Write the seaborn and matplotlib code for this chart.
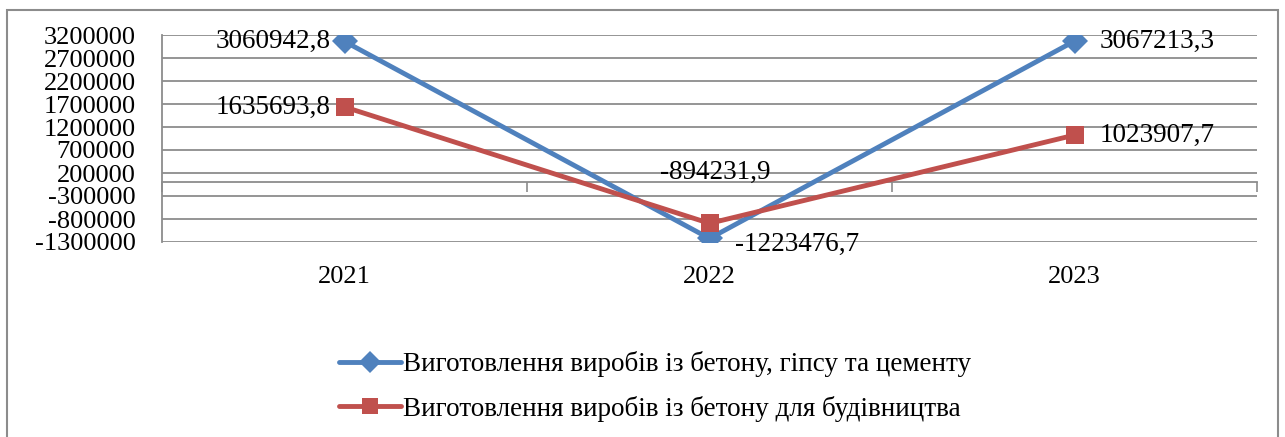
import pandas as pd
import numpy as np
import matplotlib
matplotlib.use("Agg")
import matplotlib.pyplot as plt
import matplotlib.patches as patches
import seaborn as sns

# Дані
years = [2021, 2022, 2023]
series_a = "Виготовлення виробів із бетону, гіпсу та цементу"
series_b = "Виготовлення виробів із бетону для будівництва"
values_a = [3060942.8, -1223476.7, 3067213.3]
values_b = [1635693.8, -894231.9, 1023907.7]

df = pd.DataFrame({
    "year": years * 2,
    "value": values_a + values_b,
    "series": [series_a] * 3 + [series_b] * 3,
})

sns.set_style("white")
plt.rcParams["font.family"] = ["Liberation Serif", "DejaVu Serif"]
plt.rcParams["text.color"] = "black"
plt.rcParams["xtick.color"] = "black"
plt.rcParams["ytick.color"] = "black"

blue = "#4F81BD"
red = "#C0504D"
grid_c = "#8C8C8C"

fig = plt.figure(figsize=(12.85, 4.37), dpi=100)
ax = fig.add_axes([162 / 1285, 1 - 242 / 437, (1257 - 162) / 1285, (242 - 35) / 437])

sns.lineplot(data=df, x="year", y="value", hue="series", style="series",
             palette={series_a: blue, series_b: red},
             markers={series_a: "D", series_b: "s"}, dashes=False,
             linewidth=3.5, markersize=13, markeredgewidth=0, ax=ax, legend=True)

ax.set_xlim(2020.5, 2023.5)
ax.set_ylim(-1300000, 3200000)
yt = np.arange(-1300000, 3200001, 500000)
ax.set_yticks(yt)
ax.set_yticklabels([f"{int(v)}" for v in yt], fontsize=19)
ax.set_xticks(years)
ax.set_xticklabels([str(y) for y in years], fontsize=19)
ax.tick_params(axis="x", length=0, pad=17)
ax.tick_params(axis="y", length=7, width=1.2, color=grid_c, labelcolor="black", pad=12)
ax.set_xlabel("")
ax.set_ylabel("")
ax.grid(axis="y", color=grid_c, linewidth=1.3)
ax.set_axisbelow(True)
for s in ["top", "right", "bottom"]:
    ax.spines[s].set_visible(False)
ax.spines["left"].set_color(grid_c)
ax.spines["left"].set_linewidth(1.3)

# вісь категорій на рівні нуля
zero_frac = (0 - (-1300000)) / (3200000 - (-1300000))
sec = ax.secondary_xaxis(zero_frac)
sec.set_xticks([2020.5, 2021.5, 2022.5, 2023.5])
sec.set_xticklabels([])
sec.tick_params(length=7, width=1.2, color=grid_c)
sec.spines["bottom"].set_color(grid_c)
sec.spines["bottom"].set_linewidth(1.3)

# підписи даних
def fmt(v):
    return f"{v:.1f}".replace(".", ",")

offsets_a = [(-10, 0, "right", "center"), (18, -4, "left", "center"), (18, 0, "left", "center")]
offsets_b = [(-10, 0, "right", "center"), (4, 37, "center", "center"), (18, 0, "left", "center")]
for yv, val, (dx, dy, ha, va) in zip(years, values_a, offsets_a):
    ax.annotate(fmt(val), (yv, val), xytext=(dx, dy), textcoords="offset points",
                ha=ha, va=va, fontsize=19.5, color="black")
for yv, val, (dx, dy, ha, va) in zip(years, values_b, offsets_b):
    ax.annotate(fmt(val), (yv, val), xytext=(dx, dy), textcoords="offset points",
                ha=ha, va=va, fontsize=19.5, color="black")

handles, labels = ax.get_legend_handles_labels()
ax.get_legend().remove()
leg = fig.legend(handles, labels, loc="upper left", bbox_to_anchor=(339 / 1285, 1 - 351 / 437),
                 frameon=False, fontsize=19.5, handlelength=2.3, handletextpad=0.05,
                 labelspacing=0.7, borderaxespad=0, borderpad=0)
for h in leg.legend_handles:
    h.set_markersize(11)

# рамка навколо діаграми
fig.patches.append(patches.Rectangle((7 / 1285, -0.01), 1271 / 1285, 1 - 10 / 437 + 0.01,
                                     transform=fig.transFigure, fill=False,
                                     edgecolor=grid_c, linewidth=1.5))

fig.savefig("out.png", dpi=100)
